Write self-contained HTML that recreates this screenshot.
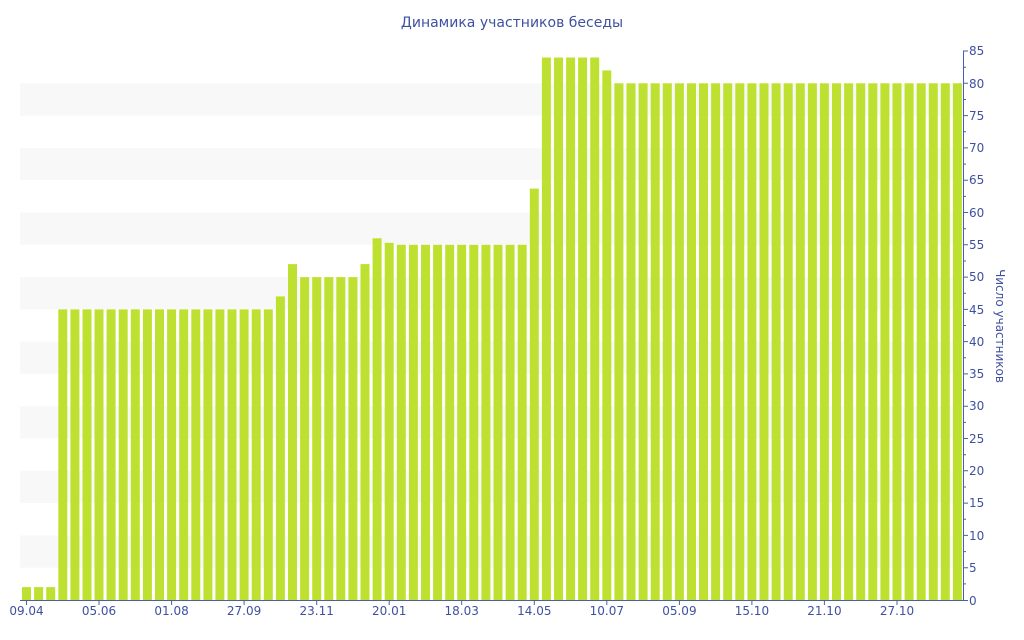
<!DOCTYPE html>
<html><head><meta charset="utf-8"><style>
body{margin:0;background:#fff;}
svg{display:block;font-family:"DejaVu Sans","Liberation Sans",sans-serif;}
</style></head><body>
<svg width="1024" height="640" xmlns="http://www.w3.org/2000/svg">
<text x="512" y="27" text-anchor="middle" font-size="14" fill="#3e51a0">Динамика участников беседы</text>
<g fill="#f8f8f8">
<rect x="20" y="535.4" width="943" height="32.3"/>
<rect x="20" y="470.8" width="943" height="32.3"/>
<rect x="20" y="406.2" width="943" height="32.3"/>
<rect x="20" y="341.6" width="943" height="32.3"/>
<rect x="20" y="277.1" width="943" height="32.3"/>
<rect x="20" y="212.5" width="943" height="32.3"/>
<rect x="20" y="147.9" width="943" height="32.3"/>
<rect x="20" y="83.3" width="943" height="32.3"/>
</g>
<g fill="#bee131">
<rect x="22.0" y="587.1" width="9" height="12.9"/>
<rect x="34.1" y="587.1" width="9" height="12.9"/>
<rect x="46.2" y="587.1" width="9" height="12.9"/>
<rect x="58.3" y="309.4" width="9" height="290.6"/>
<rect x="70.4" y="309.4" width="9" height="290.6"/>
<rect x="82.5" y="309.4" width="9" height="290.6"/>
<rect x="94.5" y="309.4" width="9" height="290.6"/>
<rect x="106.6" y="309.4" width="9" height="290.6"/>
<rect x="118.7" y="309.4" width="9" height="290.6"/>
<rect x="130.8" y="309.4" width="9" height="290.6"/>
<rect x="142.9" y="309.4" width="9" height="290.6"/>
<rect x="155.0" y="309.4" width="9" height="290.6"/>
<rect x="167.1" y="309.4" width="9" height="290.6"/>
<rect x="179.2" y="309.4" width="9" height="290.6"/>
<rect x="191.3" y="309.4" width="9" height="290.6"/>
<rect x="203.4" y="309.4" width="9" height="290.6"/>
<rect x="215.4" y="309.4" width="9" height="290.6"/>
<rect x="227.5" y="309.4" width="9" height="290.6"/>
<rect x="239.6" y="309.4" width="9" height="290.6"/>
<rect x="251.7" y="309.4" width="9" height="290.6"/>
<rect x="263.8" y="309.4" width="9" height="290.6"/>
<rect x="275.9" y="296.4" width="9" height="303.6"/>
<rect x="288.0" y="264.1" width="9" height="335.9"/>
<rect x="300.1" y="277.1" width="9" height="322.9"/>
<rect x="312.2" y="277.1" width="9" height="322.9"/>
<rect x="324.3" y="277.1" width="9" height="322.9"/>
<rect x="336.3" y="277.1" width="9" height="322.9"/>
<rect x="348.4" y="277.1" width="9" height="322.9"/>
<rect x="360.5" y="264.1" width="9" height="335.9"/>
<rect x="372.6" y="238.3" width="9" height="361.7"/>
<rect x="384.7" y="242.8" width="9" height="357.2"/>
<rect x="396.8" y="244.8" width="9" height="355.2"/>
<rect x="408.9" y="244.8" width="9" height="355.2"/>
<rect x="421.0" y="244.8" width="9" height="355.2"/>
<rect x="433.1" y="244.8" width="9" height="355.2"/>
<rect x="445.2" y="244.8" width="9" height="355.2"/>
<rect x="457.2" y="244.8" width="9" height="355.2"/>
<rect x="469.3" y="244.8" width="9" height="355.2"/>
<rect x="481.4" y="244.8" width="9" height="355.2"/>
<rect x="493.5" y="244.8" width="9" height="355.2"/>
<rect x="505.6" y="244.8" width="9" height="355.2"/>
<rect x="517.7" y="244.8" width="9" height="355.2"/>
<rect x="529.8" y="188.6" width="9" height="411.4"/>
<rect x="541.9" y="57.5" width="9" height="542.5"/>
<rect x="554.0" y="57.5" width="9" height="542.5"/>
<rect x="566.1" y="57.5" width="9" height="542.5"/>
<rect x="578.1" y="57.5" width="9" height="542.5"/>
<rect x="590.2" y="57.5" width="9" height="542.5"/>
<rect x="602.3" y="70.4" width="9" height="529.6"/>
<rect x="614.4" y="83.3" width="9" height="516.7"/>
<rect x="626.5" y="83.3" width="9" height="516.7"/>
<rect x="638.6" y="83.3" width="9" height="516.7"/>
<rect x="650.7" y="83.3" width="9" height="516.7"/>
<rect x="662.8" y="83.3" width="9" height="516.7"/>
<rect x="674.9" y="83.3" width="9" height="516.7"/>
<rect x="687.0" y="83.3" width="9" height="516.7"/>
<rect x="699.0" y="83.3" width="9" height="516.7"/>
<rect x="711.1" y="83.3" width="9" height="516.7"/>
<rect x="723.2" y="83.3" width="9" height="516.7"/>
<rect x="735.3" y="83.3" width="9" height="516.7"/>
<rect x="747.4" y="83.3" width="9" height="516.7"/>
<rect x="759.5" y="83.3" width="9" height="516.7"/>
<rect x="771.6" y="83.3" width="9" height="516.7"/>
<rect x="783.7" y="83.3" width="9" height="516.7"/>
<rect x="795.8" y="83.3" width="9" height="516.7"/>
<rect x="807.9" y="83.3" width="9" height="516.7"/>
<rect x="819.9" y="83.3" width="9" height="516.7"/>
<rect x="832.0" y="83.3" width="9" height="516.7"/>
<rect x="844.1" y="83.3" width="9" height="516.7"/>
<rect x="856.2" y="83.3" width="9" height="516.7"/>
<rect x="868.3" y="83.3" width="9" height="516.7"/>
<rect x="880.4" y="83.3" width="9" height="516.7"/>
<rect x="892.5" y="83.3" width="9" height="516.7"/>
<rect x="904.6" y="83.3" width="9" height="516.7"/>
<rect x="916.7" y="83.3" width="9" height="516.7"/>
<rect x="928.8" y="83.3" width="9" height="516.7"/>
<rect x="940.8" y="83.3" width="9" height="516.7"/>
<rect x="952.9" y="83.3" width="9" height="516.7"/>
</g>
<g stroke="#4a5fa5" stroke-width="1" fill="none">
<line x1="20" y1="600.5" x2="964" y2="600.5"/>
<line x1="963.5" y1="51" x2="963.5" y2="601"/>
<path d="M963 600.5h5M963 567.7h5M963 535.4h5M963 503.1h5M963 470.8h5M963 438.5h5M963 406.2h5M963 373.9h5M963 341.6h5M963 309.4h5M963 277.1h5M963 244.8h5M963 212.5h5M963 180.2h5M963 147.9h5M963 115.6h5M963 83.3h5M963 51h5"/>
<path d="M963 583.9h3M963 551.6h3M963 519.3h3M963 487h3M963 454.7h3M963 422.4h3M963 390.1h3M963 357.8h3M963 325.5h3M963 293.2h3M963 261h3M963 228.7h3M963 196.4h3M963 164.1h3M963 131.8h3M963 99.5h3M963 67.2h3"/>
<path d="M26.5 600v5M99 600v5M171.6 600v5M244.1 600v5M316.7 600v5M389.2 600v5M461.7 600v5M534.3 600v5M606.8 600v5M679.4 600v5M751.9 600v5M824.4 600v5M897 600v5"/>
</g>
<g font-size="12" fill="#3e51a0">
<text x="969" y="605">0</text><text x="969" y="572">5</text><text x="969" y="540">10</text><text x="969" y="507">15</text><text x="969" y="475">20</text><text x="969" y="443">25</text><text x="969" y="410">30</text><text x="969" y="378">35</text><text x="969" y="346">40</text><text x="969" y="314">45</text><text x="969" y="281">50</text><text x="969" y="249">55</text><text x="969" y="217">60</text><text x="969" y="184">65</text><text x="969" y="152">70</text><text x="969" y="120">75</text><text x="969" y="88">80</text><text x="969" y="55">85</text>
<text x="26.5" y="615" text-anchor="middle">09.04</text>
<text x="99" y="615" text-anchor="middle">05.06</text>
<text x="171.6" y="615" text-anchor="middle">01.08</text>
<text x="244.1" y="615" text-anchor="middle">27.09</text>
<text x="316.7" y="615" text-anchor="middle">23.11</text>
<text x="389.2" y="615" text-anchor="middle">20.01</text>
<text x="461.7" y="615" text-anchor="middle">18.03</text>
<text x="534.3" y="615" text-anchor="middle">14.05</text>
<text x="606.8" y="615" text-anchor="middle">10.07</text>
<text x="679.4" y="615" text-anchor="middle">05.09</text>
<text x="751.9" y="615" text-anchor="middle">15.10</text>
<text x="824.4" y="615" text-anchor="middle">21.10</text>
<text x="897" y="615" text-anchor="middle">27.10</text>
<text x="0" y="0" text-anchor="middle" transform="translate(996,326) rotate(90)">Число участников</text>
</g>
</svg>
</body></html>
